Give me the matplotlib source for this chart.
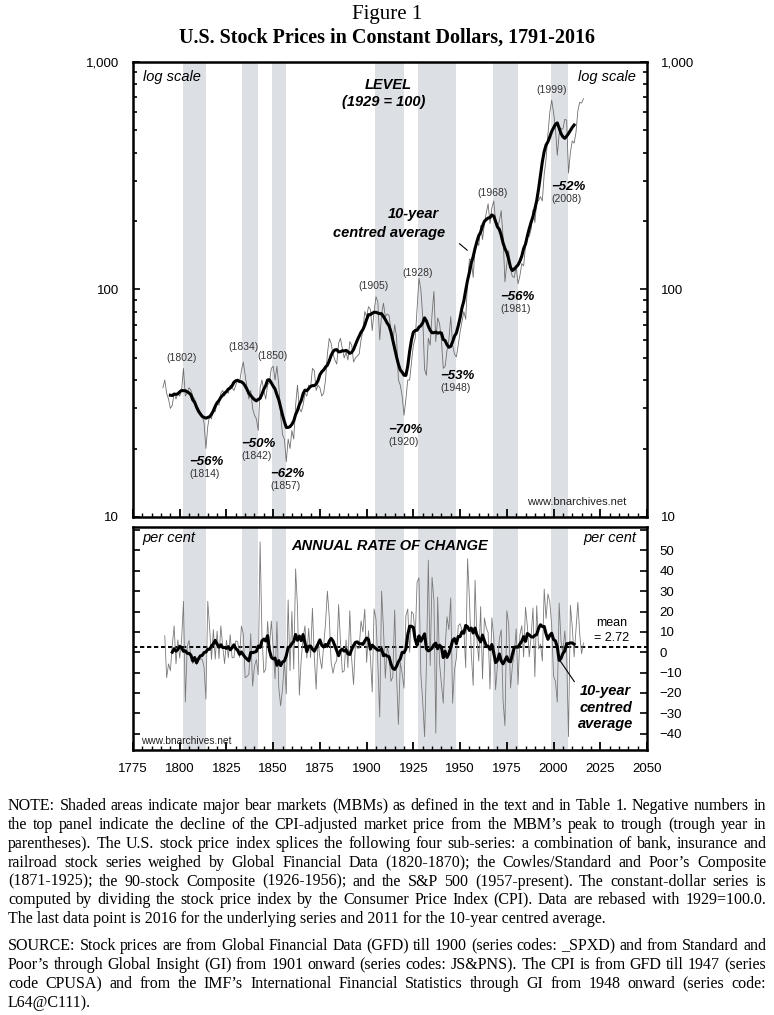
import numpy as np
import pandas as pd
import matplotlib.pyplot as plt
from matplotlib.ticker import FixedLocator, FixedFormatter, MultipleLocator, LogLocator, NullFormatter

plt.rcParams['font.family'] = ['Liberation Sans', 'DejaVu Sans']

# U.S. stock prices in constant dollars, 1929 = 100 (year by year)
years = np.arange(1791, 2017)
level = [
    37, 40, 35, 33, 30, 31, 35, 33, 35, 34,            # 1791-1800
    36, 45, 34, 35, 37, 36, 34, 33, 31, 30,            # 1801-1810
    29, 28, 26, 20, 25, 28, 27, 30, 29, 32,            # 1811-1820
    31, 35, 36, 34, 36, 35, 38, 37, 36, 38,            # 1821-1830
    40, 39, 44, 48, 42, 37, 33, 36, 30, 28,            # 1831-1840
    27, 24, 37, 40, 36, 33, 38, 39, 45, 46,            # 1841-1850
    40, 46, 38, 28, 23, 22, 17.5, 22, 20, 24,          # 1851-1860
    22, 31, 38, 30, 29, 31, 35, 34, 38, 37,            # 1861-1870
    45, 44, 36, 38, 37, 34, 35, 40, 52, 61,            # 1871-1880
    58, 52, 49, 47, 58, 61, 55, 50, 53, 49,            # 1881-1890
    59, 57, 48, 50, 51, 52, 60, 66, 80, 76,            # 1891-1900
    84, 82, 66, 80, 93, 88, 60, 78, 87, 76,            # 1901-1910
    78, 77, 66, 58, 70, 62, 40, 38, 34, 28,            # 1911-1920
    33, 40, 40, 48, 57, 61, 82, 112, 100, 76,          # 1921-1930
    44.5, 42, 61, 57, 78, 98, 59, 75, 71, 60,          # 1931-1940
    45, 46, 54, 60, 76, 57, 52, 50.5, 57, 65,          # 1941-1950
    72, 80, 74, 108, 136, 135, 113, 153, 163, 156,     # 1951-1960
    191, 166, 194, 217, 238, 195, 228, 245, 200, 188,  # 1961-1970
    200, 222, 169, 108, 130, 148, 122, 114, 113, 126,  # 1971-1980
    106, 115, 130, 127, 155, 175, 171, 184, 224, 197,  # 1981-1990
    242, 246, 256, 245, 321, 374, 481, 600, 680, 600,  # 1991-2000
    515, 389, 483, 509, 507, 560, 555, 325, 400, 450,  # 2001-2010
    440, 490, 610, 665, 660, 690,                      # 2011-2016
]

# major bear markets: peak year, trough year, decline
bear_peaks = [1802, 1834, 1850, 1905, 1928, 1968, 1999]
bear_troughs = [1814, 1842, 1857, 1920, 1948, 1981, 2008]
bear_drops = ['56', '50', '62', '70', '53', '56', '52']
mean_change = 2.72

s = pd.Series(level, index=years, dtype=float)
avg = s.rolling(10).mean().shift(-5)        # 10-year centred average
chg = s.pct_change() * 100                  # annual rate of change
chg_avg = chg.rolling(10).mean().shift(-5)

W, H = 774, 1015
fig = plt.figure(figsize=(W / 100, H / 100), dpi=100)
ax1 = fig.add_axes([133 / W, 1 - 517 / H, 514 / W, 455 / H])
ax2 = fig.add_axes([133 / W, 1 - 750 / H, 514 / W, 223 / H])

shade = '#dcdfe4'
for ax in (ax1, ax2):
    for p, t in zip(bear_peaks, bear_troughs):
        ax.axvspan(p - 0.5, t, color=shade, lw=0, zorder=0)
    ax.set_xlim(1775, 2050)
    for sp in ax.spines.values():
        sp.set_linewidth(1.8)
    ax.xaxis.set_major_locator(MultipleLocator(25))
    ax.xaxis.set_minor_locator(MultipleLocator(5))
    ax.tick_params(axis='x', which='major', direction='in', length=6, width=1.3)
    ax.tick_params(axis='x', which='minor', direction='in', length=3, width=1)
    ax.tick_params(axis='y', which='both', direction='in', left=True, right=True, width=1.2)
    ax.tick_params(axis='y', which='major', length=5)
    ax.tick_params(axis='y', which='minor', length=3)

# ---- top panel: level
ax1.set_yscale('log')
ax1.set_ylim(10, 1000)
ax1.plot(years, s.values, color='#6e6e6e', lw=0.6, zorder=2)
ax1.plot(years, avg.values, color='black', lw=2.2, zorder=3)
ax1.yaxis.set_major_locator(FixedLocator([10, 100, 1000]))
ax1.yaxis.set_major_formatter(FixedFormatter(['10', '100', '1,000']))
ax1.yaxis.set_minor_locator(LogLocator(base=10, subs=np.arange(2, 10)))
ax1.yaxis.set_minor_formatter(NullFormatter())
ax1.tick_params(axis='y', labelleft=True, labelright=True, labelsize=9.5, pad=10)
ax1.tick_params(axis='x', labelbottom=False)

ax1.text(0.019, 0.967, 'log scale', transform=ax1.transAxes, style='italic', fontsize=10.5, va='center')
ax1.text(0.979, 0.967, 'log scale', transform=ax1.transAxes, style='italic', fontsize=10.5,
         va='center', ha='right')
bi = dict(style='italic', weight='bold', ha='center', va='center')
ax1.text(1911.5, 795, 'LEVEL', fontsize=10.5, **bi)
ax1.text(1909, 667, '(1929 = 100)', fontsize=10.5, **bi)
ax1.text(1925, 214, '10-year', fontsize=10.5, **bi)
ax1.text(1912, 178, 'centred average', fontsize=10.5, **bi)
ax1.annotate('', xy=(1955, 146), xytext=(1948.5, 162),
             arrowprops=dict(arrowstyle='-', lw=0.8, color='black'))

peak_lab = [(1801, 50), (1833.9, 55.8), (1849.4, 51), (1903.9, 103.5), (1927.5, 118), (1967.6, 265),
            (1999.2, 753)]
drop_lab = [(1814, 17.5), (1841.9, 20.9), (1857.4, 15.5), (1920.5, 24.1), (1948.4, 41.7), (1980.5, 92.7),
            (2007.7, 282)]
for (px, py), (dx, dy), p, t, d in zip(peak_lab, drop_lab, bear_peaks, bear_troughs, bear_drops):
    ax1.text(px, py, '(%d)' % p, fontsize=7.5, color='#333333', ha='center', va='center')
    ax1.text(dx, dy, '\u2212' + d + '%', fontsize=9.5, **bi)
    ax1.text(dx - 0.7, dy * 0.885, '(%d)' % t, fontsize=7.5, color='#333333', ha='center', va='center')
ax1.text(2039, 11.6, 'www.bnarchives.net', fontsize=8, ha='right', va='center', color='#222222')

# ---- bottom panel: annual rate of change
ax2.set_ylim(-48, 61.5)
ax2.axhline(mean_change, color='black', lw=1.4, ls=(0, (2.2, 1.4)), zorder=2)
ax2.plot(years, chg.values, color='#7a7a7a', lw=0.6, zorder=2)
ax2.plot(years, chg_avg.values, color='black', lw=2.2, zorder=3)
ticks = list(range(-40, 70, 10))
ax2.yaxis.set_major_locator(FixedLocator(ticks))
ax2.yaxis.set_major_formatter(FixedFormatter([f'{v:d}'.replace('-', '\u2212') if v < 60 else '' for v in ticks]))
ax2.tick_params(axis='y', labelleft=False, labelright=True, labelsize=9.5, pad=9)
ax2.tick_params(axis='x', labelsize=9.5, pad=9)

ax2.text(0.019, 0.951, 'per cent', transform=ax2.transAxes, style='italic', fontsize=10.5, va='center')
ax2.text(0.979, 0.951, 'per cent', transform=ax2.transAxes, style='italic', fontsize=10.5,
         va='center', ha='right')
ax2.text(0.5, 0.915, 'ANNUAL RATE OF CHANGE', transform=ax2.transAxes, fontsize=10.5, **bi)
ax2.text(2031, 14.5, 'mean', fontsize=9, ha='center', va='center')
ax2.text(2031, 7.0, '= 2.72', fontsize=9, ha='center', va='center')
ax2.text(2028, -19.2, '10-year', fontsize=10.5, **bi)
ax2.text(2028, -27.2, 'centred', fontsize=10.5, **bi)
ax2.text(2028, -35.4, 'average', fontsize=10.5, **bi)
ax2.annotate('', xy=(2002.5, -2.8), xytext=(2012, -15.6),
             arrowprops=dict(arrowstyle='-', lw=0.8, color='black'))
ax2.text(1803.5, -43.5, 'www.bnarchives.net', fontsize=7.3, ha='center', va='center', color='#222222')

# ---- titles
serif = ['Liberation Serif', 'DejaVu Serif']
fig.text(0.5, 1 - 15 / H, 'Figure 1', family=serif, fontsize=15, ha='center', va='center')
fig.text(0.5, 1 - 38 / H, 'U.S. Stock Prices in Constant Dollars, 1791-2016', family=serif,
         fontsize=14.5, weight='bold', ha='center', va='center')

# ---- notes, justified
note = [
    'NOTE: Shaded areas indicate major bear markets (MBMs) as defined in the text and in Table 1. Negative numbers in',
    'the top panel indicate the decline of the CPI-adjusted market price from the MBM\u2019s peak to trough (trough year in',
    'parentheses). The U.S. stock price index splices the following four sub-series: a combination of bank, insurance and',
    'railroad stock series weighed by Global Financial Data (1820-1870); the Cowles/Standard and Poor\u2019s Composite',
    '(1871-1925); the 90-stock Composite (1926-1956); and the S&P 500 (1957-present). The constant-dollar series is',
    'computed by dividing the stock price index by the Consumer Price Index (CPI). Data are rebased with 1929=100.0.',
    'The last data point is 2016 for the underlying series and 2011 for the 10-year centred average.',
]
source = [
    'SOURCE: Stock prices are from Global Financial Data (GFD) till 1900 (series codes: _SPXD) and from Standard and',
    'Poor\u2019s through Global Insight (GI) from 1901 onward (series codes: JS&PNS). The CPI is from GFD till 1947 (series',
    'code CPUSA) and from the IMF\u2019s International Financial Statistics through GI from 1948 onward (series code:',
    'L64@C111).',
]
X0, X1, LH = 8, 766, 18.8
note_kw = dict(family=serif, fontsize=11.5, va='baseline', ha='left')
r = fig.canvas.get_renderer()


def put_par(lines, top):
    for i, line in enumerate(lines):
        y = 1 - (top + 4.5 + i * LH) / H
        if i == len(lines) - 1:
            fig.text(X0 / W, y, line, **note_kw)
            continue
        words = line.split(' ')
        txts = [fig.text(0, y, w, **note_kw) for w in words]
        widths = [t.get_window_extent(r).width for t in txts]
        gap = (X1 - X0 - sum(widths)) / (len(words) - 1)
        x = X0
        for t, w in zip(txts, widths):
            t.set_x(x / W)
            x += w + gap


put_par(note, 806)
put_par(source, 946)

fig.savefig('out.png', dpi=100)
